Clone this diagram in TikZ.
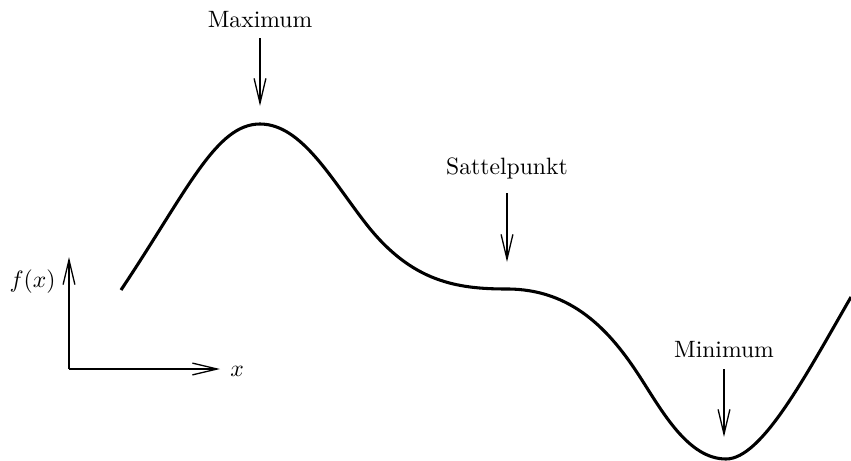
\documentclass[tikz,border=0pt]{standalone}
\usetikzlibrary{arrows.meta}
\begin{document}
\begin{tikzpicture}[x=0.42303pt,y=-0.42303pt,
  pointer/.style={line width=0.55pt,-{Straight Barb[length=10.5pt,width=5pt,line width=0.55pt]}},
  graph/.style={line width=1.3pt,line cap=butt},
  lbl/.style={inner sep=0pt,font=\normalsize}]
\useasboundingbox (0,0) rectangle (851,461);
% axes
\coordinate (o) at (69,369);
\coordinate (ytop) at (69,257);
\coordinate (xend) at (220,369);
\draw[pointer] (o) -- (ytop);
\draw[pointer] (o) -- (xend);
\node[lbl,anchor=east] (fx) at (56,282) {$f(x)$};
\node[lbl,anchor=west] (xl) at (230,371) {$x$};
% labels
\node[lbl] (max) at (260,20) {Maximum};
\node[lbl] (sat) at (507,168) {Sattelpunkt};
\node[lbl] (min) at (724,350) {Minimum};
\coordinate (maxs) at (260,38);
\coordinate (sats) at (507,193);
\coordinate (mins) at (724,369);
\coordinate (maxp) at (260,106);
\coordinate (satp) at (507,262);
\coordinate (minp) at (724,437);
\draw[pointer] (maxs) -- (maxp);
\draw[pointer] (sats) -- (satp);
\draw[pointer] (mins) -- (minp);
% curve
\begin{scope}
\clip (0,0) rectangle (851,461);
\draw[graph] (121,290)
  .. controls (188,189.5) and (216,124) .. (260,124)
  .. controls (302,124) and (332,180.5) .. (367,225)
  .. controls (412,282) and (457,289) .. (507,289)
  .. controls (572,289) and (610,330.5) .. (640,377)
  .. controls (662,411) and (688,459) .. (726,459)
  .. controls (762,459) and (806,374.9) .. (851,297);
\end{scope}
\end{tikzpicture}
\end{document}
